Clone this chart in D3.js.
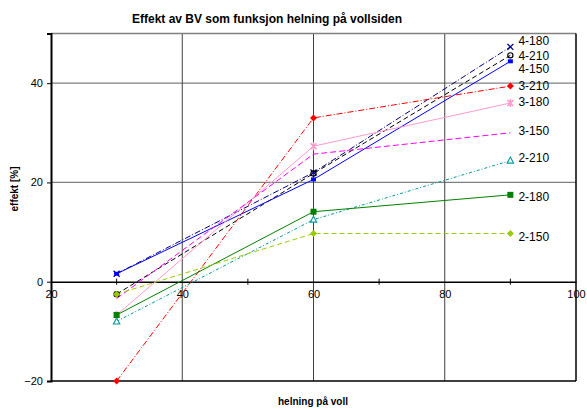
<!DOCTYPE html>
<html>
<head>
<meta charset="utf-8">
<script src="https://cdn.jsdelivr.net/npm/d3@7"></script>
<style>
  body { margin: 0; background: #fff; }
  svg { display: block; font-family: "Liberation Sans", Arial, sans-serif; }
</style>
</head>
<body>
<svg id="chart" width="587" height="409"></svg>
<script>
// ---- data ----
const xValues = [30, 60, 90];
const seriesNames = ["4-180", "4-210", "4-150", "3-210", "3-180", "3-150", "2-210", "2-180", "2-150"];
const s4_180 = [1.6, 22.0, 47.3];
const s4_210 = [-2.5, 21.8, 45.6];
const s4_150 = [1.6, 20.6, 44.4];
const s3_210 = [-20.0, 33.0, 39.4];
const s3_180 = [-6.7, 27.3, 36.0];
const s3_150 = [-3.4, 25.7, 30.0];
const s2_210 = [-8.0, 12.5, 24.4];
const s2_180 = [-6.7, 14.1, 17.5];
const s2_150 = [-2.5, 9.7, 9.7];
const xTicks = [20, 40, 60, 80, 100];
const xMinorTicks = [30, 50, 70, 90];
const yTicks = [-20, 0, 20, 40];

// ---- styles ----
const styles = [
  { values: s4_180, color: "#000080", dash: "6,2,1,2", marker: "x", nudge: -6 },
  { values: s4_210, color: "#000000", dash: "5,3", marker: "circle", nudge: 0 },
  { values: s4_150, color: "#0000ff", dash: null, marker: "square-small", nudge: 7 },
  { values: s3_210, color: "#ff0000", dash: "6,2,1,2", marker: "diamond", nudge: 0 },
  { values: s3_180, color: "#ff99cc", dash: null, marker: "star", nudge: -1 },
  { values: s3_150, color: "#ff00ff", dash: "6,3", marker: "none", nudge: -2 },
  { values: s2_210, color: "#009999", dash: "3,2,1,2", marker: "triangle", nudge: -3 },
  { values: s2_180, color: "#008000", dash: null, marker: "square", nudge: 2 },
  { values: s2_150, color: "#99cc00", dash: "5,3", marker: "diamond", nudge: 3 }
];

const svg = d3.select("#chart");
const pLeft = 51, pRight = 576, pTop = 33.5, pBottom = 381;
const x = d3.scaleLinear().domain([20, 100]).range([pLeft, pRight]);
const y = d3.scaleLinear().domain([-20, 50]).range([pBottom, pTop]);

// gridlines
const g = svg.append("g");
g.selectAll(".hgrid").data([20, 40]).enter().append("line")
  .attr("x1", pLeft).attr("x2", pRight)
  .attr("y1", d => y(d)).attr("y2", d => y(d))
  .attr("stroke", "#808080").attr("stroke-width", 1.2);
g.selectAll(".vgrid").data([40, 60, 80]).enter().append("line")
  .attr("x1", d => x(d)).attr("x2", d => x(d))
  .attr("y1", pTop).attr("y2", pBottom)
  .attr("stroke", "#404040").attr("stroke-width", 1);

// frame
svg.append("line").attr("x1", pLeft).attr("x2", pRight).attr("y1", pTop).attr("y2", pTop)
  .attr("stroke", "#808080").attr("stroke-width", 1.5);
svg.append("line").attr("x1", pRight).attr("x2", pRight).attr("y1", pTop).attr("y2", pBottom)
  .attr("stroke", "#000").attr("stroke-width", 1.5);
svg.append("line").attr("x1", pLeft).attr("x2", pRight).attr("y1", pBottom).attr("y2", pBottom)
  .attr("stroke", "#000").attr("stroke-width", 1.5);

// y axis
const yAxis = d3.axisLeft(y).tickValues(yTicks).tickSize(4).tickFormat(d3.format("d"));
const ya = svg.append("g").attr("transform", `translate(${pLeft},0)`).call(yAxis);
ya.select(".domain").attr("stroke", "#000").attr("stroke-width", 2);
ya.selectAll(".tick line").attr("stroke", "#000");
ya.selectAll(".tick text").attr("font-size", 11).attr("fill", "#000")
  .attr("font-family", "Liberation Sans, Arial, sans-serif").attr("x", -8);

// x axis at y=0
const xAxis = d3.axisBottom(x).tickValues(xTicks).tickSize(0).tickFormat(d3.format("d"));
const xa = svg.append("g").attr("transform", `translate(0,${y(0)})`).call(xAxis);
xa.select(".domain").attr("stroke", "#000").attr("stroke-width", 1.5);
xa.selectAll(".tick text").attr("font-size", 11).attr("fill", "#000")
  .attr("font-family", "Liberation Sans, Arial, sans-serif").attr("dy", "0.71em").attr("y", 8);
svg.append("g").selectAll("line").data(xMinorTicks).enter().append("line")
  .attr("x1", d => x(d)).attr("x2", d => x(d))
  .attr("y1", y(0) - 3).attr("y2", y(0) + 3)
  .attr("stroke", "#000").attr("stroke-width", 1);

// lines
const lineGen = d3.line().x((d, i) => x(xValues[i])).y(d => y(d));
const series = svg.append("g");
styles.forEach((s, k) => {
  series.append("path").datum(s.values)
    .attr("d", lineGen)
    .attr("fill", "none")
    .attr("stroke", s.color)
    .attr("stroke-width", 1)
    .attr("stroke-dasharray", s.dash);
});

// markers
styles.forEach((s, k) => {
  const mg = series.append("g");
  s.values.forEach((v, i) => {
    const cx = x(xValues[i]), cy = y(v);
    const c = s.color;
    if (s.marker === "x") {
      mg.append("path").attr("d", `M${cx-3},${cy-3}L${cx+3},${cy+3}M${cx-3},${cy+3}L${cx+3},${cy-3}`)
        .attr("stroke", c).attr("stroke-width", 1.3);
    } else if (s.marker === "circle") {
      mg.append("circle").attr("cx", cx).attr("cy", cy).attr("r", 2.6)
        .attr("fill", "none").attr("stroke", c).attr("stroke-width", 1.2);
    } else if (s.marker === "square") {
      mg.append("rect").attr("x", cx - 3).attr("y", cy - 3).attr("width", 6).attr("height", 6).attr("fill", c);
    } else if (s.marker === "square-small") {
      mg.append("rect").attr("x", cx - 2.5).attr("y", cy - 2).attr("width", 5).attr("height", 4).attr("fill", c);
    } else if (s.marker === "diamond") {
      mg.append("path").attr("d", `M${cx},${cy-3.5}L${cx+3.5},${cy}L${cx},${cy+3.5}L${cx-3.5},${cy}Z`).attr("fill", c);
    } else if (s.marker === "star") {
      mg.append("path").attr("d", `M${cx-3},${cy-3}L${cx+3},${cy+3}M${cx-3},${cy+3}L${cx+3},${cy-3}M${cx},${cy-4}L${cx},${cy+4}`)
        .attr("stroke", c).attr("stroke-width", 1.5);
    } else if (s.marker === "triangle") {
      mg.append("path").attr("d", `M${cx},${cy-3.5}L${cx+3.2},${cy+2.5}L${cx-3.2},${cy+2.5}Z`)
        .attr("fill", "#fff").attr("stroke", c).attr("stroke-width", 1.1);
    }
  });
});

// end labels
styles.forEach((s, k) => {
  svg.append("text")
    .attr("x", x(xValues[2]) + 8)
    .attr("y", y(s.values[2]) + s.nudge)
    .attr("dy", "0.35em")
    .attr("font-size", 12)
    .attr("fill", "#000")
    .text(seriesNames[k]);
});

// title & axis titles
svg.append("text").attr("x", 267).attr("y", 23).attr("text-anchor", "middle")
  .attr("font-size", 12).attr("font-weight", "bold").text("Effekt av BV som funksjon helning på vollsiden");
svg.append("text").attr("x", 313).attr("y", 405).attr("text-anchor", "middle")
  .attr("font-size", 10).attr("font-weight", "bold").text("helning på voll");
svg.append("text").attr("transform", "translate(18,189) rotate(-90)").attr("text-anchor", "middle")
  .attr("font-size", 10).attr("font-weight", "bold").text("effekt [%]");
</script>
</body>
</html>
